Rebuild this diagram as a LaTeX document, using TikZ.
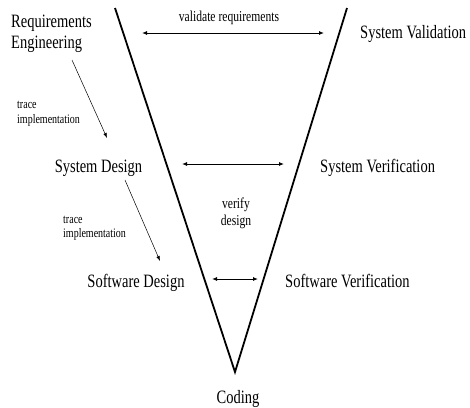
\documentclass[tikz,border=0pt]{standalone}
\usepackage{fontspec}
\usepackage{graphicx}
\setmainfont{Liberation Serif}
\usetikzlibrary{arrows.meta}
% text in this figure is set a little taller than wide
\newcommand{\tallbox}[1]{\scalebox{1}[1.3]{#1}}
\begin{document}
\begin{tikzpicture}[x=1pt,y=-1pt,
  phase/.style={inner sep=0pt, font=\fontsize{14.5}{17}\selectfont},
  note/.style={inner sep=0pt, font=\fontsize{10}{12}\selectfont},
  midnote/.style={inner sep=0pt, font=\fontsize{11.6}{14}\selectfont},
  vline/.style={line width=1.8pt},
  link/.style={line width=0.9pt, {Latex[length=5pt,width=4pt]}-{Latex[length=5pt,width=4pt]}},
  trace/.style={line width=0.5pt, -{Latex[length=5pt,width=3.5pt]}}]
\useasboundingbox (0,0) rectangle (470,407);

% the V shape
\coordinate (tl) at (115,8);
\coordinate (tr) at (347,8);
\coordinate (bot) at (235,372);
\draw[vline] (tl) -- (bot) -- (tr);

% phase labels (placed by baseline)
\node[phase, anchor=base west] (req1) at (11,27) {\tallbox{Requirements}};
\node[phase, anchor=base west] (req2) at (11,48) {\tallbox{Engineering}};
\node[phase, anchor=base] (sysdes) at (98.5,172) {\tallbox{System Design}};
\node[phase, anchor=base] (swdes) at (136,287) {\tallbox{Software Design}};
\node[phase, anchor=base west] (sysval) at (360,38) {\tallbox{System Validation}};
\node[phase, anchor=base west] (sysver) at (320,172) {\tallbox{System Verification}};
\node[phase, anchor=base west] (swver) at (285,287) {\tallbox{Software Verification}};
\node[phase, anchor=base] (coding) at (238,403) {\tallbox{Coding}};

% notes
\node[note, anchor=base west] (tr1a) at (17,108) {\tallbox{trace}};
\node[note, anchor=base west] (tr1b) at (17,123) {\tallbox{implementation}};
\node[note, anchor=base west] (tr2a) at (63,223) {\tallbox{trace}};
\node[note, anchor=base west] (tr2b) at (63,237) {\tallbox{implementation}};
\node[midnote, anchor=base] (valreq) at (229,21) {\tallbox{validate requirements}};
\node[midnote, anchor=base] (ver1) at (236,208) {\tallbox{verify}};
\node[midnote, anchor=base] (ver2) at (236,225) {\tallbox{design}};

% trace arrows
\coordinate (t1a) at (72,60);
\coordinate (t1b) at (107,138);
\coordinate (t2a) at (125,180);
\coordinate (t2b) at (160,261);
\draw[trace] (t1a) -- (t1b);
\draw[trace] (t2a) -- (t2b);

% validation / verification arrows
\coordinate (v1a) at (142,33);
\coordinate (v1b) at (324,33);
\coordinate (v2a) at (182,164);
\coordinate (v2b) at (284,164);
\coordinate (v3a) at (212,279);
\coordinate (v3b) at (258,279);
\draw[link] (v1a) -- (v1b);
\draw[link] (v2a) -- (v2b);
\draw[link] (v3a) -- (v3b);
\end{tikzpicture}
\end{document}
